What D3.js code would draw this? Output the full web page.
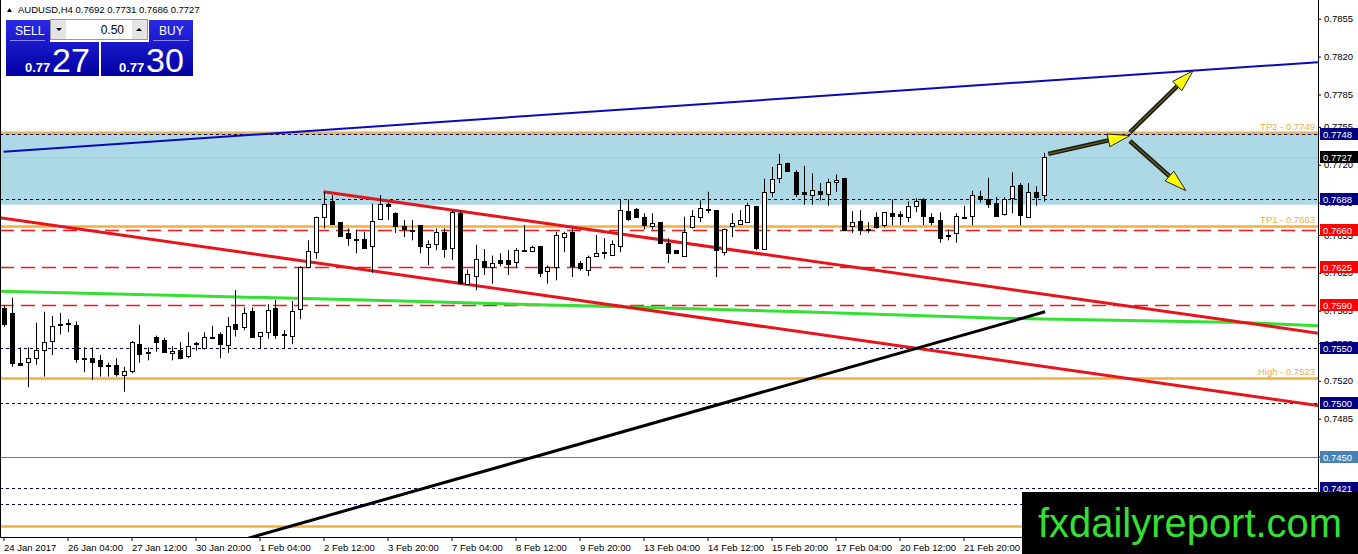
<!DOCTYPE html>
<html lang="en">
<head>
<meta charset="UTF-8">
<title>AUDUSD,H4</title>
<script src="https://d3js.org/d3.v7.min.js"></script>
<style>
  html, body { margin: 0; padding: 0; background: #fff; overflow: hidden; }
  svg { display: block; font-family: "Liberation Sans", Arial, sans-serif; }
</style>
</head>
<body>
<div id="chart"></div>
<script>
// H4 bars, 24 Jan 2017 -> 22 Feb 2017
const opens = [
  0.7587, 0.7583, 0.7537, 0.7537, 0.7542, 0.7549, 0.7557, 0.7573, 0.7574, 0.7572,
  0.7541, 0.7541, 0.7539, 0.7534, 0.7535, 0.7525, 0.7529, 0.7554, 0.7547, 0.7561,
  0.7558, 0.7546, 0.7549, 0.7543, 0.7554, 0.7551, 0.7561, 0.7563, 0.7553, 0.7573,
  0.7570, 0.7585, 0.7561, 0.7566, 0.7587, 0.7563, 0.7562, 0.7586, 0.7625, 0.7640,
  0.7672, 0.7686, 0.7667, 0.7657, 0.7651, 0.7651, 0.7645, 0.7670, 0.7684, 0.7675,
  0.7663, 0.7660, 0.7664, 0.7644, 0.7647, 0.7658, 0.7643, 0.7675, 0.7610, 0.7617,
  0.7631, 0.7625, 0.7632, 0.7632, 0.7630, 0.7641, 0.7640, 0.7645, 0.7621, 0.7625,
  0.7653, 0.7658, 0.7629, 0.7623, 0.7635, 0.7638, 0.7637, 0.7645, 0.7677, 0.7679,
  0.7672, 0.7663, 0.7667, 0.7648, 0.7641, 0.7636, 0.7663, 0.7672, 0.7679, 0.7678,
  0.7640, 0.7663, 0.7665, 0.7667, 0.7682, 0.7642, 0.7695, 0.7708, 0.7722, 0.7713,
  0.7695, 0.7692, 0.7696, 0.7693, 0.7704, 0.7708, 0.7663, 0.7668, 0.7661, 0.7672,
  0.7664, 0.7675, 0.7674, 0.7672, 0.7681, 0.7688, 0.7672, 0.7669, 0.7655, 0.7657,
  0.7672, 0.7673, 0.7691, 0.7688, 0.7685, 0.7674, 0.7689, 0.7701, 0.7672, 0.7695,
  0.7692
];
const highs = [
  0.7590, 0.7597, 0.7551, 0.7551, 0.7574, 0.7584, 0.7580, 0.7583, 0.7577, 0.7575,
  0.7551, 0.7551, 0.7544, 0.7537, 0.7541, 0.7533, 0.7557, 0.7572, 0.7551, 0.7562,
  0.7560, 0.7552, 0.7556, 0.7565, 0.7556, 0.7565, 0.7571, 0.7565, 0.7579, 0.7604,
  0.7588, 0.7588, 0.7565, 0.7591, 0.7595, 0.7567, 0.7594, 0.7626, 0.7650, 0.7672,
  0.7695, 0.7692, 0.7667, 0.7661, 0.7660, 0.7658, 0.7684, 0.7692, 0.7685, 0.7676,
  0.7669, 0.7669, 0.7664, 0.7650, 0.7661, 0.7661, 0.7678, 0.7678, 0.7623, 0.7646,
  0.7642, 0.7636, 0.7638, 0.7641, 0.7643, 0.7664, 0.7645, 0.7645, 0.7627, 0.7658,
  0.7658, 0.7661, 0.7631, 0.7636, 0.7655, 0.7652, 0.7650, 0.7688, 0.7688, 0.7680,
  0.7675, 0.7675, 0.7667, 0.7652, 0.7641, 0.7672, 0.7678, 0.7687, 0.7695, 0.7678,
  0.7661, 0.7675, 0.7678, 0.7685, 0.7682, 0.7707, 0.7718, 0.7730, 0.7722, 0.7715,
  0.7719, 0.7712, 0.7703, 0.7707, 0.7711, 0.7708, 0.7677, 0.7678, 0.7667, 0.7676,
  0.7676, 0.7688, 0.7677, 0.7686, 0.7689, 0.7689, 0.7675, 0.7676, 0.7660, 0.7675,
  0.7682, 0.7696, 0.7696, 0.7708, 0.7690, 0.7690, 0.7713, 0.7703, 0.7703, 0.7700,
  0.7731
];
const lows = [
  0.7570, 0.7533, 0.7534, 0.7514, 0.7535, 0.7524, 0.7544, 0.7563, 0.7565, 0.7537,
  0.7528, 0.7521, 0.7524, 0.7524, 0.7524, 0.7510, 0.7527, 0.7537, 0.7539, 0.7547,
  0.7546, 0.7539, 0.7540, 0.7541, 0.7548, 0.7549, 0.7559, 0.7541, 0.7546, 0.7561,
  0.7567, 0.7560, 0.7550, 0.7559, 0.7559, 0.7550, 0.7554, 0.7577, 0.7624, 0.7633,
  0.7661, 0.7665, 0.7654, 0.7645, 0.7638, 0.7642, 0.7620, 0.7669, 0.7669, 0.7657,
  0.7653, 0.7650, 0.7638, 0.7627, 0.7641, 0.7634, 0.7632, 0.7609, 0.7609, 0.7604,
  0.7618, 0.7610, 0.7626, 0.7618, 0.7625, 0.7640, 0.7639, 0.7616, 0.7610, 0.7613,
  0.7639, 0.7616, 0.7622, 0.7617, 0.7635, 0.7633, 0.7637, 0.7639, 0.7668, 0.7671,
  0.7660, 0.7660, 0.7647, 0.7629, 0.7638, 0.7635, 0.7661, 0.7667, 0.7675, 0.7616,
  0.7636, 0.7653, 0.7665, 0.7667, 0.7641, 0.7641, 0.7690, 0.7703, 0.7715, 0.7690,
  0.7683, 0.7683, 0.7687, 0.7682, 0.7695, 0.7660, 0.7657, 0.7655, 0.7657, 0.7661,
  0.7662, 0.7664, 0.7664, 0.7667, 0.7676, 0.7664, 0.7664, 0.7648, 0.7650, 0.7648,
  0.7671, 0.7664, 0.7685, 0.7680, 0.7672, 0.7673, 0.7675, 0.7664, 0.7671, 0.7682,
  0.7686
];
const closes = [
  0.7572, 0.7537, 0.7535, 0.7541, 0.7549, 0.7556, 0.7571, 0.7572, 0.7573, 0.7541,
  0.7540, 0.7537, 0.7533, 0.7535, 0.7527, 0.7529, 0.7556, 0.7545, 0.7546, 0.7556,
  0.7547, 0.7548, 0.7542, 0.7552, 0.7555, 0.7561, 0.7560, 0.7554, 0.7571, 0.7568,
  0.7583, 0.7561, 0.7565, 0.7586, 0.7562, 0.7562, 0.7585, 0.7625, 0.7640, 0.7672,
  0.7684, 0.7665, 0.7654, 0.7652, 0.7651, 0.7643, 0.7668, 0.7684, 0.7682, 0.7663,
  0.7660, 0.7659, 0.7645, 0.7647, 0.7658, 0.7642, 0.7676, 0.7610, 0.7619, 0.7633,
  0.7625, 0.7629, 0.7629, 0.7628, 0.7641, 0.7640, 0.7644, 0.7620, 0.7625, 0.7655,
  0.7657, 0.7627, 0.7624, 0.7635, 0.7638, 0.7639, 0.7647, 0.7678, 0.7670, 0.7672,
  0.7665, 0.7666, 0.7648, 0.7639, 0.7638, 0.7658, 0.7673, 0.7680, 0.7679, 0.7641,
  0.7661, 0.7666, 0.7669, 0.7683, 0.7643, 0.7695, 0.7707, 0.7721, 0.7715, 0.7693,
  0.7693, 0.7697, 0.7693, 0.7704, 0.7706, 0.7660, 0.7667, 0.7660, 0.7660, 0.7663,
  0.7676, 0.7672, 0.7672, 0.7682, 0.7686, 0.7672, 0.7667, 0.7652, 0.7654, 0.7673,
  0.7672, 0.7692, 0.7688, 0.7683, 0.7673, 0.7688, 0.7700, 0.7673, 0.7695, 0.7690,
  0.7727
];

const timeLabels = [
  "24 Jan 2017", "26 Jan 04:00", "27 Jan 12:00", "30 Jan 20:00", "1 Feb 04:00",
  "2 Feb 12:00", "3 Feb 20:00", "7 Feb 04:00", "8 Feb 12:00", "9 Feb 20:00",
  "13 Feb 04:00", "14 Feb 12:00", "15 Feb 20:00", "17 Feb 04:00", "20 Feb 12:00",
  "21 Feb 20:00"
];
const priceTicks = [0.7855, 0.7820, 0.7785, 0.7755, 0.7720, 0.7685, 0.7655, 0.7620,
  0.7585, 0.7555, 0.7520, 0.7485, 0.7450, 0.7415];

// horizontal levels
const zone = [0.7683, 0.7751];
const orangeLevels = [0.7749, 0.7663, 0.7523, 0.7386];
const orangeNames = ["TP2 - 0.7749", "TP1 - 0.7663", "High - 0.7523", ""];
const navyLevels = [0.7748, 0.7688, 0.7550, 0.7500, 0.7421, 0.7406];
const redLevels = [0.7660, 0.7625, 0.7590];
const blueLevel = 0.7450;
const lastPrice = 0.7727;
const tagLevels = [0.7748, 0.7727, 0.7688, 0.7660, 0.7625, 0.7590, 0.7550, 0.7500, 0.7450, 0.7421];
const tagKinds = ["navy", "last", "navy", "red", "red", "red", "navy", "navy", "blue", "navy"];

// trend lines as [bar index, price]
const blueTrend = [[0, 0.7732], [164.5, 0.7815]];
const redUpper = [[40, 0.7695], [164.5, 0.7564]];
const redLower = [[-0.5, 0.7671], [164.5, 0.7497]];
const greenLine = [[-0.5, 0.7603], [22, 0.7599], [44, 0.7595], [74.6, 0.7589],
  [99.6, 0.7584], [124.6, 0.7578], [154.6, 0.7574], [164.5, 0.7571]];
const blackTrend = [[28, 0.7369], [130.2, 0.7584]];
const arrows = [
  [[130.6, 0.7730], [140.8, 0.7747]],
  [[140.8, 0.7750], [148.7, 0.7807]],
  [[140.8, 0.7742], [147.8, 0.7696]]
];

const W = 1358, H = 554;
const plotRight = 1318, plotBottom = 537;

const svg = d3.select("#chart").append("svg")
  .attr("width", W).attr("height", H);

svg.append("rect").attr("width", W).attr("height", H).attr("fill", "#fff");

const x = d3.scaleLinear().domain([0, 164]).range([3.5, 3.5 + 8 * 164]);
const y = d3.scaleLinear().domain([0.73756, 0.78724]).range([plotBottom, 0]);

svg.append("clipPath").attr("id", "plot")
  .append("rect").attr("x", 0).attr("y", 0).attr("width", plotRight).attr("height", plotBottom);

const plot = svg.append("g").attr("clip-path", "url(#plot)");

// zone
plot.append("rect")
  .attr("x", 0).attr("width", plotRight)
  .attr("y", y(zone[1])).attr("height", y(zone[0]) - y(zone[1]))
  .attr("fill", "#add8e6");

function hline(g, p, color, width, dash) {
  g.append("line")
    .attr("x1", 0).attr("x2", plotRight)
    .attr("y1", Math.round(y(p)) + 0.5).attr("y2", Math.round(y(p)) + 0.5)
    .attr("stroke", color).attr("stroke-width", width)
    .attr("stroke-dasharray", dash || null);
}

hline(plot, lastPrice, "#c0c0c0", 1);
hline(plot, blueLevel, "#4682b4", 1);
redLevels.forEach(p => hline(plot, p, "#f01818", 1.5, "14,7"));
orangeLevels.forEach(p => hline(plot, p, "#f0b040", 2.5));
navyLevels.forEach(p => hline(plot, p, "#000060", 1, "3,3"));

const line = d3.line().x(d => x(d[0])).y(d => y(d[1]));

plot.append("path").datum(greenLine).attr("d", line)
  .attr("fill", "none").attr("stroke", "#33e033").attr("stroke-width", 3);
plot.append("path").datum(blueTrend).attr("d", line)
  .attr("fill", "none").attr("stroke", "#0a0ab8").attr("stroke-width", 2);
[redUpper, redLower].forEach(t => {
  plot.append("path").datum(t).attr("d", line)
    .attr("fill", "none").attr("stroke", "#e8141c").attr("stroke-width", 3);
});
plot.append("path").datum(blackTrend).attr("d", line)
  .attr("fill", "none").attr("stroke", "#000").attr("stroke-width", 3);

// candles
const bars = d3.range(opens.length);
const candle = plot.append("g").selectAll("g").data(bars).join("g");
candle.append("line")
  .attr("x1", i => Math.round(x(i)) + 0.5).attr("x2", i => Math.round(x(i)) + 0.5)
  .attr("y1", i => y(highs[i])).attr("y2", i => y(lows[i]))
  .attr("stroke", "#000").attr("stroke-width", 1);
candle.append("rect")
  .attr("x", i => Math.round(x(i)) - 2 + 0.5)
  .attr("width", 4)
  .attr("y", i => Math.round(y(Math.max(opens[i], closes[i]))) + 0.5)
  .attr("height", i => Math.max(1, Math.round(Math.abs(y(opens[i]) - y(closes[i])))))
  .attr("fill", i => closes[i] >= opens[i] ? "#fff" : "#000")
  .attr("stroke", "#000").attr("stroke-width", 1);

// arrows
arrows.forEach(a => {
  const x0 = x(a[0][0]), y0 = y(a[0][1]), x1 = x(a[1][0]), y1 = y(a[1][1]);
  const len = Math.hypot(x1 - x0, y1 - y0);
  const ux = (x1 - x0) / len, uy = (y1 - y0) / len;
  const headLen = 22, headW = 6.5;
  const bx = x1 - ux * headLen, by = y1 - uy * headLen;
  plot.append("line").attr("x1", x0).attr("y1", y0).attr("x2", bx).attr("y2", by)
    .attr("stroke", "#1a1a08").attr("stroke-width", 4.5);
  plot.append("line").attr("x1", x0).attr("y1", y0).attr("x2", bx).attr("y2", by)
    .attr("stroke", "#5c5c2c").attr("stroke-width", 1.5);
  plot.append("path")
    .attr("d", `M${x1},${y1}L${bx - uy * headW},${by + ux * headW}L${bx + uy * headW},${by - ux * headW}Z`)
    .attr("fill", "#ffff00").attr("stroke", "#222").attr("stroke-width", 1);
});

// level names
orangeLevels.forEach((p, i) => {
  if (!orangeNames[i]) return;
  plot.append("text")
    .attr("x", plotRight - 3).attr("y", y(p) - 3)
    .attr("text-anchor", "end")
    .attr("font-size", 9.5)
    .attr("fill", "#e8b048")
    .text(orangeNames[i]);
});

// axes
const fmt = d3.format(".4f");
const yAxis = d3.axisRight(y).tickValues(priceTicks).tickFormat(fmt).tickSize(3).tickPadding(3);
svg.append("g").attr("transform", `translate(${plotRight},0)`).call(yAxis)
  .call(g => g.select(".domain").remove())
  .call(g => g.selectAll("text").attr("font-family", "Liberation Sans, Arial, sans-serif").attr("font-size", 9.5).attr("fill", "#000"));

const xAxis = d3.axisBottom(x)
  .tickValues(timeLabels.map((_, i) => i * 8))
  .tickFormat((_, i) => timeLabels[i]).tickSize(4).tickPadding(3);
svg.append("g").attr("transform", `translate(0,${plotBottom})`).call(xAxis)
  .call(g => g.select(".domain").remove())
  .call(g => g.selectAll("text").attr("text-anchor", "start").attr("dx", 0)
    .attr("font-family", "Liberation Sans, Arial, sans-serif").attr("font-size", 9.5).attr("fill", "#000"));

// frame
svg.append("path")
  .attr("d", `M0.5,0V${plotBottom + 0.5}H${plotRight + 0.5}V0`)
  .attr("fill", "none").attr("stroke", "#000").attr("stroke-width", 1);

// price tags
const tagColor = { navy: "#000080", red: "#ff0000", last: "#000", blue: "#4682b4" };
const tags = svg.append("g");
tagLevels.forEach((p, i) => {
  const cy = Math.round(y(p));
  tags.append("rect")
    .attr("x", plotRight + 2).attr("y", cy - 6).attr("width", 38).attr("height", 12)
    .attr("fill", tagColor[tagKinds[i]]);
  tags.append("text")
    .attr("x", plotRight + 5).attr("y", cy + 3.5)
    .attr("font-size", 9.5).attr("fill", "#fff")
    .text(fmt(p));
});

// watermark
svg.append("rect").attr("x", 1022).attr("y", 492).attr("width", W - 1022).attr("height", H - 492)
  .attr("fill", "#000");
svg.append("text")
  .attr("x", 1038).attr("y", 537)
  .attr("font-family", "Liberation Sans Narrow, Liberation Sans, Arial, sans-serif")
  .attr("font-size", 40)
  .attr("fill", "#35e035")
  .attr("textLength", 304).attr("lengthAdjust", "spacingAndGlyphs")
  .text("fxdailyreport.com");

// header
svg.append("path").attr("d", "M7,12L12,12L9.5,8Z").attr("fill", "#000");
svg.append("text").attr("x", 18).attr("y", 13).attr("font-size", 9.5).attr("fill", "#000")
  .text("AUDUSD,H4  0.7692 0.7731 0.7686 0.7727");

// one-click trading panel
const defs = svg.append("defs");
const grad = defs.append("linearGradient").attr("id", "btn").attr("x1", 0).attr("x2", 0).attr("y1", 0).attr("y2", 1);
grad.append("stop").attr("offset", "0%").attr("stop-color", "#2a2ae6");
grad.append("stop").attr("offset", "100%").attr("stop-color", "#0000a0");

const panel = svg.append("g");
panel.append("path").attr("d", "M6,20H50V42H99V76H6Z").attr("fill", "url(#btn)");
panel.append("path").attr("d", "M149,20H193V76H101V42H149Z").attr("fill", "url(#btn)");
panel.append("line").attr("x1", 10).attr("x2", 45).attr("y1", 40.5).attr("y2", 40.5).attr("stroke", "#8888ee");
panel.append("line").attr("x1", 153).attr("x2", 189).attr("y1", 40.5).attr("y2", 40.5).attr("stroke", "#8888ee");
panel.append("rect").attr("x", 50.5).attr("y", 19.5).attr("width", 97).attr("height", 20)
  .attr("fill", "#fff").attr("stroke", "#999");
panel.append("rect").attr("x", 51).attr("y", 20).attr("width", 15).attr("height", 19).attr("fill", "#e4e4e4");
panel.append("rect").attr("x", 132).attr("y", 20).attr("width", 15).attr("height", 19).attr("fill", "#e4e4e4");
panel.append("path").attr("d", "M56,28H62L59,31Z").attr("fill", "#000");
panel.append("path").attr("d", "M136,31H142L139,28Z").attr("fill", "#000");
panel.append("text").attr("x", 124).attr("y", 34).attr("text-anchor", "end").attr("font-size", 12).attr("fill", "#000").text("0.50");
panel.append("text").attr("x", 15).attr("y", 35).attr("font-size", 12).attr("fill", "#fff").text("SELL");
panel.append("text").attr("x", 159).attr("y", 35).attr("font-size", 12).attr("fill", "#fff").text("BUY");
panel.append("text").attr("x", 25).attr("y", 72).attr("font-size", 13).attr("font-weight", "bold").attr("fill", "#fff").text("0.77");
panel.append("text").attr("x", 52).attr("y", 72).attr("font-size", 34).attr("fill", "#fff").text("27");
panel.append("text").attr("x", 119).attr("y", 72).attr("font-size", 13).attr("font-weight", "bold").attr("fill", "#fff").text("0.77");
panel.append("text").attr("x", 146).attr("y", 72).attr("font-size", 34).attr("fill", "#fff").text("30");
</script>
</body>
</html>
